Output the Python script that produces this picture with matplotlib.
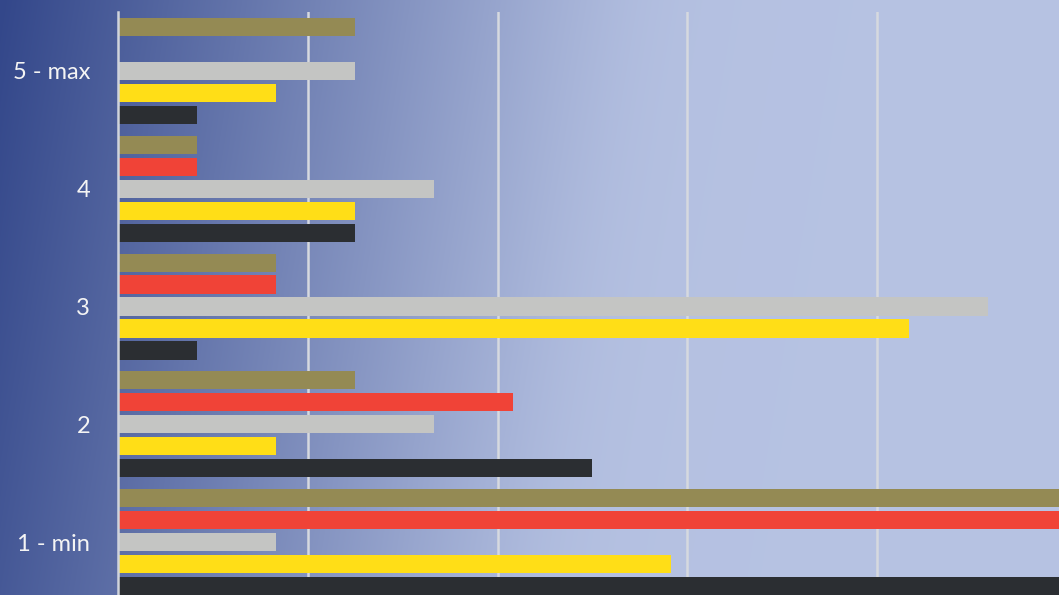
# plot.py
# Горизонтальная сгруппированная диаграмма: 5 оценок (1 - min ... 5 - max),
# по 5 серий в каждой группе. Доли ответов, 24 респондента.

import numpy as np
import matplotlib.pyplot as plt

# --- данные ---
categories = ["1 - min", "2", "3", "4", "5 - max"]
respondents = 24

# количество ответов по сериям (снизу вверх внутри группы)
series_dark = [13, 6, 1, 3, 1]
series_yellow = [7, 2, 10, 3, 2]
series_gray = [2, 4, 11, 4, 3]
series_red = [16, 5, 2, 1, 0]
series_olive = [15, 3, 2, 1, 3]

series = [series_dark, series_yellow, series_gray, series_red, series_olive]
colors = ["#2b2e32", "#ffde17", "#c4c5c3", "#f04337", "#948a54"]


def background(width, height):
    """Градиент фона: тёмно-синий слева -> светло-лавандовый справа."""
    dark = np.array([51, 71, 138]) / 255.0
    light = np.array([183, 195, 227]) / 255.0
    x = np.arange(width)[None, :]
    y = np.arange(height)[:, None]
    lin = 1.0 - 0.00155 * x - 0.00025 * y
    # мягкое обрезание снизу, чтобы не было резкой границы
    d = 0.5 * (lin + np.sqrt(lin ** 2 + 0.01))
    d = np.clip(d, 0, 1)
    img = light[None, None, :] + (dark - light)[None, None, :] * d[:, :, None]
    return np.clip(img, 0, 1)


def main():
    W, H = 1059, 595
    fig = plt.figure(figsize=(W / 100, H / 100), dpi=100)

    # фон на всю фигуру
    bg = fig.add_axes([0, 0, 1, 1], zorder=0)
    bg.imshow(background(W, H), aspect="auto", extent=[0, 1, 0, 1])
    bg.set_axis_off()

    ax = fig.add_axes([118 / W, 0, 1 - 118 / W, 583 / H], zorder=1)
    ax.patch.set_alpha(0)

    y = np.arange(len(categories))
    step = 0.1868
    height = 0.153

    for i, (vals, col) in enumerate(zip(series, colors)):
        pct = np.array(vals) / respondents * 100
        ax.barh(y + (i - 2) * step, pct, height=height, color=col, zorder=3)

    ax.set_xlim(0, 49.59)
    ax.set_ylim(-0.45, 4.501)
    ax.set_xticks([10, 20, 30, 40])
    ax.xaxis.set_tick_params(length=0, labelbottom=False)
    ax.grid(axis="x", color="#d6d9df", linewidth=1.8, zorder=1)

    ax.set_yticks(y)
    ax.set_yticklabels(categories, family=["Lato", "DejaVu Sans"], fontsize=17,
                       color="#f4f4f4")
    ax.tick_params(axis="y", length=0, pad=20)

    for side in ["top", "right", "bottom"]:
        ax.spines[side].set_visible(False)
    ax.spines["left"].set_color("#d0d4dc")
    ax.spines["left"].set_linewidth(1.8)
    ax.spines["left"].set_zorder(4)

    fig.savefig("out.png", dpi=100)
    plt.close(fig)


if __name__ == "__main__":
    main()
